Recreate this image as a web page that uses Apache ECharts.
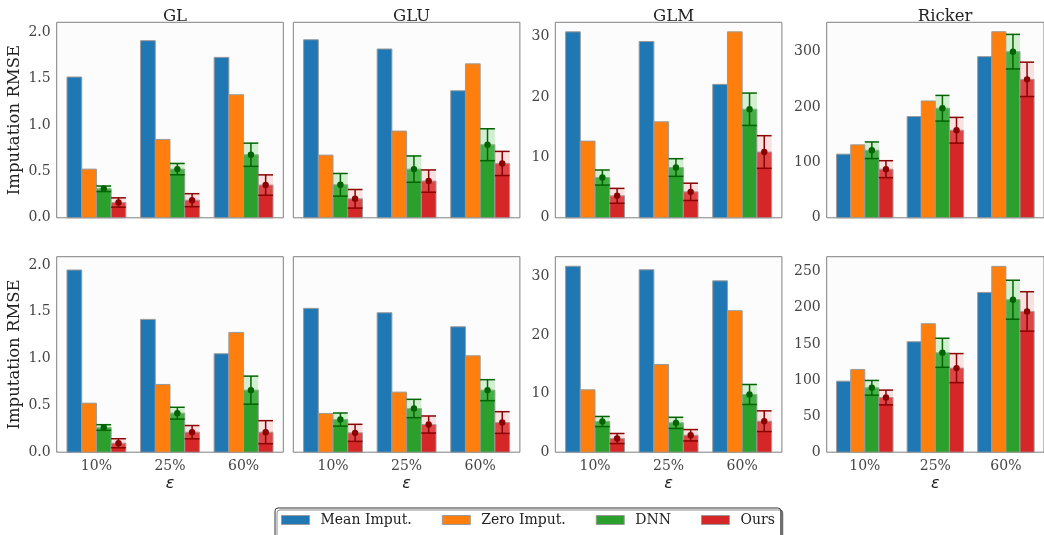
<!DOCTYPE html>
<html>
<head>
<meta charset="utf-8">
<script src="https://cdn.jsdelivr.net/npm/echarts@6/dist/echarts.min.js"></script>
<style>
html,body{margin:0;padding:0;background:#fff;}
#chart{width:1044px;height:535px;}
</style>
</head>
<body>
<div id="chart"></div>
<script>
// ---------------- DATA ----------------
const categories = ['10%', '25%', '60%'];
const panelTitles = ['GL', 'GLU', 'GLM', 'Ricker'];
const methods = ['Mean Imput.', 'Zero Imput.', 'DNN', 'Ours'];

// top row (one inner array per panel: GL, GLU, GLM, Ricker)
const meanTop    = [[1.518, 1.91, 1.73], [1.92, 1.82, 1.37], [30.8, 29.2, 22.1], [114.9, 182.8, 291]];
const zeroTop    = [[0.525, 0.845, 1.327], [0.676, 0.935, 1.66], [12.7, 15.9, 30.8], [131.7, 211, 336]];
const dnnTop     = [[0.313, 0.525, 0.68], [0.356, 0.525, 0.788], [6.67, 8.33, 17.98], [122, 197.8, 300]];
const dnnErrTop  = [[0.03, 0.061, 0.125], [0.122, 0.142, 0.172], [1.25, 1.46, 2.68], [15, 23.2, 31.2]];
const oursTop    = [[0.165, 0.19, 0.353], [0.205, 0.396, 0.586], [3.64, 4.3, 10.9], [87.8, 158.1, 250]];
const oursErrTop = [[0.05, 0.07, 0.11], [0.10, 0.12, 0.13], [1.23, 1.43, 2.7], [15.3, 23.2, 31]];

// bottom row
const meanBot    = [[1.947, 1.419, 1.052], [1.537, 1.49, 1.34], [31.8, 31.2, 29.3], [98.4, 153, 221.3]];
const zeroBot    = [[0.524, 0.724, 1.28], [0.414, 0.642, 1.03], [10.67, 15.0, 24.2], [114.6, 178, 257.4]];
const dnnBot     = [[0.264, 0.417, 0.663], [0.349, 0.467, 0.663], [5.25, 5.02, 9.87], [89.2, 137.7, 211.2]];
const dnnErrBot  = [[0.03, 0.063, 0.15], [0.07, 0.098, 0.112], [0.86, 0.95, 1.71], [10.2, 20.1, 27]];
const oursBot    = [[0.096, 0.214, 0.214], [0.207, 0.296, 0.317], [2.34, 2.9, 5.3], [75.8, 116.5, 195]];
const oursErrBot = [[0.048, 0.071, 0.123], [0.091, 0.091, 0.116], [0.86, 0.97, 1.77], [10.2, 20.1, 27.3]];

// axis limits and tick labels
const yMaxTop = [2.108, 2.108, 32.38, 353];
const yMaxBot = [2.089, 2.089, 33.43, 270.8];
const yTicksTop = [[0, 0.5, 1, 1.5, 2], [0, 0.5, 1, 1.5, 2], [0, 10, 20, 30], [0, 100, 200, 300]];
const yTicksBot = [[0, 0.5, 1, 1.5, 2], [0, 0.5, 1, 1.5, 2], [0, 10, 20, 30], [0, 50, 100, 150, 200, 250]];

// ---------------- STYLE / LAYOUT ----------------
const COLORS = ['#1f77b4', '#ff7f0e', '#2ca02c', '#d62728'];
const DARK = [null, null, '#006400', '#8b0000'];
const BAND = [null, null, 'rgba(120,210,120,0.32)', 'rgba(240,150,150,0.27)'];
const EDGE = '#9a9a9a';
const BW = 0.2;
const SERIF = '"DejaVu Serif", serif';
const colLeft = [56.7, 293.3, 555.3, 826.7];
const colWidth = 226.6;
const rowTop = [22.3, 256.7];
const rowHeight = 195.5;

function makeRender(k) {
  return function (params, api) {
    const cat = api.value(0), v = api.value(1), e = api.value(2);
    const xc = cat + (k - 1.5) * BW;
    const pTL = api.coord([xc - BW / 2, v]);
    const pBR = api.coord([xc + BW / 2, 0]);
    const children = [{
      type: 'rect',
      shape: { x: pTL[0], y: pTL[1], width: pBR[0] - pTL[0], height: pBR[1] - pTL[1] },
      style: { fill: COLORS[k], stroke: EDGE, lineWidth: 1 }
    }];
    if (DARK[k]) {
      const hi = api.coord([xc - BW / 2, v + e]);
      const lo = api.coord([xc + BW / 2, v - e]);
      const c = api.coord([xc, v]);
      children.push({
        type: 'rect',
        shape: { x: hi[0], y: hi[1], width: lo[0] - hi[0], height: lo[1] - hi[1] },
        style: { fill: BAND[k], stroke: null }
      });
      children.push({ type: 'line', shape: { x1: c[0], y1: hi[1], x2: c[0], y2: lo[1] },
        style: { stroke: DARK[k], lineWidth: 1.5 } });
      children.push({ type: 'line', shape: { x1: hi[0], y1: hi[1], x2: lo[0], y2: hi[1] },
        style: { stroke: DARK[k], lineWidth: 1.5 } });
      children.push({ type: 'line', shape: { x1: hi[0], y1: lo[1], x2: lo[0], y2: lo[1] },
        style: { stroke: DARK[k], lineWidth: 1.5 } });
      children.push({ type: 'circle', shape: { cx: c[0], cy: c[1], r: 3.2 },
        style: { fill: DARK[k], stroke: null } });
    }
    return { type: 'group', children: children };
  };
}

const grids = [], xAxes = [], yAxes = [], series = [], titles = [];
const rows = [
  { mean: meanTop, zero: zeroTop, dnn: dnnTop, dnnErr: dnnErrTop, ours: oursTop, oursErr: oursErrTop, yMax: yMaxTop, yTicks: yTicksTop },
  { mean: meanBot, zero: zeroBot, dnn: dnnBot, dnnErr: dnnErrBot, ours: oursBot, oursErr: oursErrBot, yMax: yMaxBot, yTicks: yTicksBot }
];

rows.forEach(function (row, r) {
  for (let p = 0; p < 4; p++) {
    const gi = grids.length;
    grids.push({
      left: colLeft[p], top: rowTop[r], width: colWidth, height: rowHeight,
      show: true, backgroundColor: '#fcfcfc', borderColor: '#808080', borderWidth: 1
    });
    xAxes.push({
      gridIndex: gi, type: 'value', min: -0.54, max: 2.54,
      axisLine: { show: false }, axisTick: { show: false }, splitLine: { show: false },
      axisLabel: {
        show: r === 1, customValues: [0, 1, 2], margin: 7,
        formatter: function (val) { return categories[Math.round(val)]; },
        fontFamily: SERIF, fontSize: 14, color: '#444'
      },
      name: r === 1 ? 'ε' : '', nameLocation: 'middle', nameGap: 24,
      nameTextStyle: { fontFamily: '"DejaVu Sans", sans-serif', fontStyle: 'italic', fontSize: 16, color: '#222' }
    });
    const isDecimal = p < 2;
    yAxes.push({
      gridIndex: gi, type: 'value', min: 0, max: row.yMax[p],
      axisLine: { show: false }, axisTick: { show: false }, splitLine: { show: false },
      axisLabel: {
        show: p !== 1, customValues: row.yTicks[p], margin: 6,
        formatter: function (val) { return isDecimal ? val.toFixed(1) : String(Math.round(val)); },
        fontFamily: SERIF, fontSize: 14, color: '#444'
      },
      name: p === 0 ? 'Imputation RMSE' : '', nameLocation: 'middle', nameGap: 33,
      nameTextStyle: { fontFamily: SERIF, fontSize: 16.5, color: '#222' }
    });
    if (r === 0) {
      titles.push({
        text: panelTitles[p], left: colLeft[p] + colWidth / 2, top: 3, textAlign: 'center',
        textStyle: { fontFamily: SERIF, fontSize: 16.5, fontWeight: 'normal', color: '#222' }
      });
    }
    const vals = [row.mean[p], row.zero[p], row.dnn[p], row.ours[p]];
    const errs = [null, null, row.dnnErr[p], row.oursErr[p]];
    for (let k = 0; k < 4; k++) {
      const data = categories.map(function (c, i) {
        return [i, vals[k][i], errs[k] ? errs[k][i] : 0];
      });
      series.push({
        type: 'custom', name: methods[k], xAxisIndex: gi, yAxisIndex: gi,
        renderItem: makeRender(k), data: data, encode: { x: 0, y: 1 },
        itemStyle: { color: COLORS[k] }, clip: false, animation: false, silent: true
      });
    }
  }
});

const chart = echarts.init(document.getElementById('chart'), null, { renderer: 'canvas' });
chart.setOption({
  animation: false,
  backgroundColor: '#ffffff',
  title: titles,
  grid: grids,
  xAxis: xAxes,
  yAxis: yAxes,
  legend: {
    data: methods, left: 275, top: 508,
    icon: 'rect', itemWidth: 28, itemHeight: 9, itemGap: 30,
    itemStyle: { borderColor: '#999', borderWidth: 1 },
    textStyle: { fontFamily: SERIF, fontSize: 14, color: '#222', padding: [0, 0, 0, 6] },
    padding: [5, 6, 22, 6],
    borderColor: '#333', borderWidth: 1, borderRadius: 3, backgroundColor: '#fff',
    shadowColor: 'rgba(0,0,0,0.45)', shadowOffsetX: 2, shadowOffsetY: 2, shadowBlur: 0,
    selectedMode: false
  },
  series: series
});
</script>
</body>
</html>
